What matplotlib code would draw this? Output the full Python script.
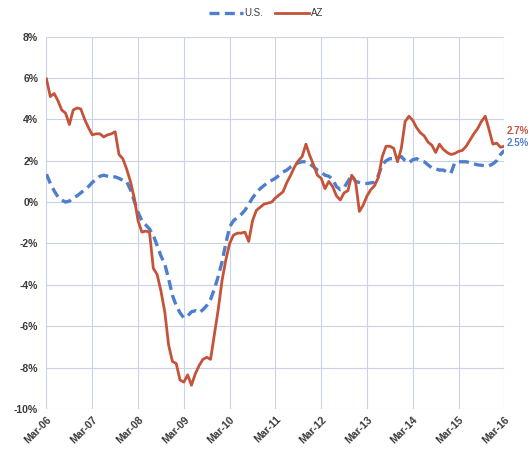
import matplotlib
matplotlib.use("Agg")
import matplotlib.pyplot as plt
import numpy as np

# Year-over-year job growth, monthly from Mar-06 through Mar-16
az_growth = [
    5.95, 5.10, 5.25, 4.90, 4.45, 4.30, 3.75, 4.45, 4.55, 4.50, 4.00, 3.60,
    3.25, 3.30, 3.30, 3.15, 3.25, 3.30, 3.40, 2.30, 2.10, 1.60, 1.00, 0.20,
    -0.90, -1.45, -1.40, -1.45, -3.20, -3.50, -4.30, -5.30, -6.90, -7.70, -7.80, -8.60,
    -8.70, -8.35, -8.85, -8.30, -7.90, -7.60, -7.50, -7.60, -6.40, -5.20, -3.80, -2.80,
    -2.00, -1.60, -1.50, -1.50, -1.45, -1.90, -0.90, -0.40, -0.25, -0.10, -0.05, 0.00,
    0.20, 0.35, 0.50, 0.95, 1.30, 1.70, 2.00, 2.20, 2.80, 2.25, 1.80, 1.30,
    1.15, 0.65, 1.00, 0.75, 0.30, 0.10, 0.45, 0.55, 1.30, 1.00, -0.45, -0.15,
    0.30, 0.60, 0.80, 1.20, 2.20, 2.70, 2.70, 2.60, 1.95, 2.60, 3.90, 4.15,
    3.95, 3.60, 3.35, 3.20, 2.90, 2.75, 2.40, 2.80, 2.55, 2.40, 2.30, 2.35,
    2.45, 2.50, 2.70, 3.00, 3.30, 3.55, 3.90, 4.15, 3.50, 2.80, 2.85, 2.65,
    2.70,
]
us_growth = [
    1.35, 0.90, 0.55, 0.25, 0.10, 0.00, 0.05, 0.20, 0.30, 0.45, 0.60, 0.75,
    0.95, 1.10, 1.25, 1.30, 1.25, 1.20, 1.22, 1.15, 1.05, 1.00, 0.60, 0.05,
    -0.50, -0.90, -1.10, -1.30, -1.60, -2.10, -2.60, -3.00, -3.70, -4.50, -5.00, -5.35,
    -5.60, -5.50, -5.30, -5.25, -5.35, -5.20, -5.00, -4.70, -4.20, -3.60, -2.90, -2.00,
    -1.20, -0.90, -0.75, -0.60, -0.40, -0.10, 0.20, 0.45, 0.65, 0.80, 0.95, 1.05,
    1.15, 1.30, 1.45, 1.55, 1.70, 1.80, 1.90, 1.95, 1.95, 1.85, 1.70, 1.55,
    1.45, 1.30, 1.25, 1.10, 0.75, 0.60, 0.70, 1.00, 1.30, 1.00, 0.95, 0.90,
    0.90, 0.93, 0.95, 1.30, 1.80, 2.00, 2.10, 2.10, 2.15, 2.20, 2.00, 1.90,
    2.05, 2.10, 2.00, 1.95, 1.80, 1.65, 1.60, 1.55, 1.55, 1.45, 1.40, 1.90,
    1.95, 1.95, 1.95, 1.90, 1.85, 1.80, 1.78, 1.75, 1.75, 1.85, 2.00, 2.30,
    2.50,
]
x_labels = ["Mar-06", "Mar-07", "Mar-08", "Mar-09", "Mar-10", "Mar-11",
            "Mar-12", "Mar-13", "Mar-14", "Mar-15", "Mar-16"]
y_ticks = [8, 6, 4, 2, 0, -2, -4, -6, -8, -10]
series_names = ["U.S.", "AZ"]
end_labels = ["2.5%", "2.7%"]

US_COLOR = "#4f7fcc"
AZ_COLOR = "#c4533a"
TEXT_COLOR = "#3a3a3a"
GRID_COLOR = "#c9d3e6"

plt.rcParams["font.family"] = ["Liberation Sans", "DejaVu Sans"]

fig = plt.figure(figsize=(5.32, 4.63), dpi=100)
ax = fig.add_axes([0.0874, 0.1166, 0.8606, 0.8044])

months = np.arange(len(az_growth))
ax.plot(months, us_growth, color=US_COLOR, lw=2.4, linestyle=(0, (3.0, 1.6)),
        label=series_names[0], zorder=3)
ax.plot(months, az_growth, color=AZ_COLOR, lw=2.0, label=series_names[1], zorder=4)

ax.set_xlim(0, len(az_growth) - 1)
ax.set_ylim(-10, 8)
ax.set_xticks(np.arange(0, len(az_growth), 12))
ax.set_xticklabels(x_labels, rotation=45, ha="right", rotation_mode="anchor",
                   fontsize=7.5, fontweight="bold", color=TEXT_COLOR)
ax.set_yticks(y_ticks)
ax.set_yticklabels([f"{v}%" for v in y_ticks], fontsize=7.5,
                   fontweight="bold", color=TEXT_COLOR)
ax.tick_params(axis="both", length=0, pad=6)
ax.tick_params(axis="x", pad=4)
ax.grid(True, color=GRID_COLOR, lw=0.8)
for s in ax.spines.values():
    s.set_visible(False)

# Final-value labels at the right end of each line
ax.annotate(end_labels[1], xy=(months[-1], az_growth[-1]), xytext=(2, 11),
            textcoords="offset points", color=AZ_COLOR, fontsize=7,
            fontweight="bold", va="center", ha="left", annotation_clip=False)
ax.annotate(end_labels[0], xy=(months[-1], us_growth[-1]), xytext=(2, 5),
            textcoords="offset points", color=US_COLOR, fontsize=7,
            fontweight="bold", va="center", ha="left", annotation_clip=False)

leg = fig.legend(loc="center", bbox_to_anchor=(0.5, 0.972), ncol=2, frameon=False,
                 fontsize=7, handlelength=3.5, columnspacing=1.2, handletextpad=0.15)
for t in leg.get_texts():
    t.set_color(TEXT_COLOR)

fig.savefig("out.png", dpi=100, facecolor="white")
